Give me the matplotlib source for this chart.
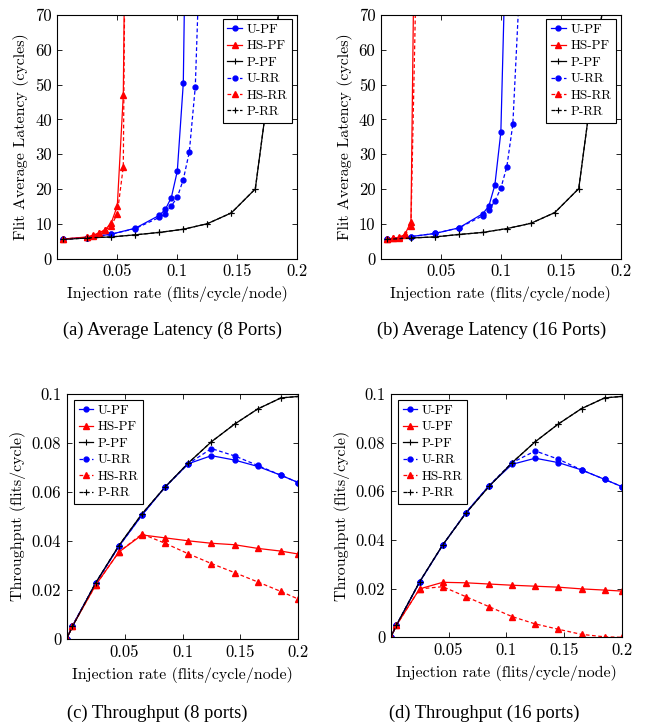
import matplotlib
matplotlib.use("Agg")
import matplotlib.pyplot as plt

plt.rcParams['font.family'] = ['cmr10', 'DejaVu Serif']
plt.rcParams['mathtext.fontset'] = 'cm'
plt.rcParams['axes.formatter.use_mathtext'] = True

# ---------------- data ----------------
# (a) latency, 8 ports
a_u_pf_x = [0.005, 0.025, 0.045, 0.065, 0.085, 0.09, 0.095, 0.1, 0.105, 0.11]
a_u_pf_y = [5.6, 6.0, 7.0, 8.7, 12.4, 14.1, 17.5, 25.1, 50.4, 173]
a_hs_pf_x = [0.005, 0.025, 0.03, 0.035, 0.04, 0.045, 0.05, 0.055, 0.06]
a_hs_pf_y = [5.6, 6.2, 6.7, 7.4, 8.3, 10.3, 15.1, 47.0, 215]
a_p_pf_x = [0.005, 0.025, 0.045, 0.065, 0.085, 0.105, 0.125, 0.145, 0.165, 0.185, 0.2]
a_p_pf_y = [5.5, 5.9, 6.2, 6.8, 7.5, 8.4, 10.0, 13.1, 20.0, 72.0, 150]
a_u_rr_x = [0.005, 0.025, 0.045, 0.065, 0.085, 0.09, 0.095, 0.1, 0.105, 0.11, 0.115, 0.12]
a_u_rr_y = [5.6, 6.0, 7.0, 8.6, 11.8, 12.9, 15.1, 17.6, 22.7, 30.6, 49.4, 101]
a_hs_rr_x = [0.005, 0.025, 0.03, 0.035, 0.04, 0.045, 0.05, 0.055, 0.06]
a_hs_rr_y = [5.6, 6.1, 6.6, 7.3, 8.2, 9.4, 12.9, 26.4, 245]
a_p_rr_x = [0.005, 0.025, 0.045, 0.065, 0.085, 0.105, 0.125, 0.145, 0.165, 0.185, 0.2]
a_p_rr_y = [5.5, 5.9, 6.2, 6.8, 7.5, 8.4, 10.0, 13.1, 20.0, 72.0, 150]

# (b) latency, 16 ports
b_u_pf_x = [0.005, 0.025, 0.045, 0.065, 0.085, 0.09, 0.095, 0.1, 0.105]
b_u_pf_y = [5.6, 6.3, 7.2, 8.8, 12.9, 15.1, 21.1, 36.3, 103]
b_hs_pf_x = [0.005, 0.01, 0.015, 0.02, 0.025, 0.03]
b_hs_pf_y = [5.6, 5.8, 6.1, 6.9, 10.6, 160]
b_p_pf_x = [0.005, 0.025, 0.045, 0.065, 0.085, 0.105, 0.125, 0.145, 0.165, 0.185, 0.2]
b_p_pf_y = [5.5, 5.9, 6.2, 6.9, 7.5, 8.6, 10.1, 13.2, 20.1, 72.0, 150]
b_u_rr_x = [0.005, 0.025, 0.045, 0.065, 0.085, 0.09, 0.095, 0.1, 0.105, 0.11, 0.115]
b_u_rr_y = [5.6, 6.3, 7.2, 8.8, 12.3, 13.9, 16.5, 20.2, 26.4, 38.6, 74]
b_hs_rr_x = [0.005, 0.01, 0.015, 0.02, 0.025, 0.03]
b_hs_rr_y = [5.6, 5.8, 6.0, 6.7, 9.4, 93]
b_p_rr_x = [0.005, 0.025, 0.045, 0.065, 0.085, 0.105, 0.125, 0.145, 0.165, 0.185, 0.2]
b_p_rr_y = [5.5, 5.9, 6.2, 6.9, 7.5, 8.6, 10.1, 13.2, 20.1, 72.0, 150]

# (c) throughput, 8 ports
tp_x = [0.0, 0.005, 0.025, 0.045, 0.065, 0.085, 0.105, 0.125, 0.145, 0.165, 0.185, 0.2]
c_u_pf_y = [0.0, 0.0053, 0.0227, 0.0377, 0.0505, 0.0620, 0.0715, 0.0748, 0.0730, 0.0704, 0.0668, 0.0638]
c_hs_pf_y = [0.0, 0.0052, 0.0219, 0.0354, 0.0424, 0.0412, 0.0400, 0.0390, 0.0384, 0.0369, 0.0358, 0.0346]
c_p_pf_y = [0.0, 0.0050, 0.0228, 0.0380, 0.0510, 0.0620, 0.0718, 0.0805, 0.0877, 0.0939, 0.0984, 0.0990]
c_u_rr_y = [0.0, 0.0053, 0.0227, 0.0377, 0.0505, 0.0620, 0.0715, 0.0777, 0.0747, 0.0708, 0.0668, 0.0638]
c_hs_rr_y = [0.0, 0.0052, 0.0219, 0.0354, 0.0428, 0.0390, 0.0347, 0.0307, 0.0270, 0.0232, 0.0193, 0.0162]
c_p_rr_y = [0.0, 0.0050, 0.0228, 0.0380, 0.0510, 0.0620, 0.0718, 0.0805, 0.0877, 0.0939, 0.0984, 0.0990]

# (d) throughput, 16 ports
d_u_pf_y = [0.0, 0.0050, 0.0227, 0.0379, 0.0512, 0.0623, 0.0711, 0.0736, 0.0718, 0.0688, 0.0649, 0.0619]
d_hs_pf_y = [0.0, 0.0050, 0.0199, 0.0226, 0.0224, 0.0219, 0.0214, 0.0210, 0.0206, 0.0199, 0.0194, 0.0190]
d_p_pf_y = [0.0, 0.0050, 0.0228, 0.0380, 0.0510, 0.0620, 0.0718, 0.0804, 0.0877, 0.0940, 0.0984, 0.0990]
d_u_rr_y = [0.0, 0.0050, 0.0227, 0.0379, 0.0512, 0.0623, 0.0718, 0.0766, 0.0732, 0.0688, 0.0649, 0.0619]
d_hs_rr_y = [0.0, 0.0050, 0.0199, 0.0208, 0.0167, 0.0126, 0.0085, 0.0055, 0.0033, 0.0012, 0.0002, 0.0]
d_p_rr_y = [0.0, 0.0050, 0.0228, 0.0380, 0.0510, 0.0620, 0.0718, 0.0804, 0.0877, 0.0940, 0.0984, 0.0990]

legend_labels = ["U-PF", "HS-PF", "P-PF", "U-RR", "HS-RR", "P-RR"]
legend_labels_d = ["U-PF", "U-PF", "P-PF", "U-RR", "HS-RR", "P-RR"]

x_ticks = [0.05, 0.1, 0.15, 0.2]
x_tick_labels = ["0.05", "0.1", "0.15", "0.2"]
lat_ticks = [0, 10, 20, 30, 40, 50, 60, 70]
lat_tick_labels = ["0", "10", "20", "30", "40", "50", "60", "70"]
tp_ticks = [0, 0.02, 0.04, 0.06, 0.08, 0.1]
tp_tick_labels = ["0", "0.02", "0.04", "0.06", "0.08", "0.1"]

x_label = "Injection rate (flits/cycle/node)"
lat_label = "Flit Average Latency (cycles)"
tp_label = "Throughput (flits/cycle)"
captions = ["(a) Average Latency (8 Ports)", "(b) Average Latency (16 Ports)",
            "(c) Throughput (8 ports)", "(d) Throughput (16 ports)"]

# ---------------- figure ----------------
W, H = 647, 728
fig = plt.figure(figsize=(W / 100, H / 100), dpi=100)

def ax_at(left, top, right, bottom):
    return fig.add_axes([left / W, 1 - bottom / H, (right - left) / W, (bottom - top) / H])

styles = [
    dict(color='blue', marker='o', linestyle='-', markersize=3.5),
    dict(color='red', marker='^', linestyle='-', markersize=4),
    dict(color='black', marker='+', linestyle='-', markersize=5, markeredgewidth=0.8),
    dict(color='blue', marker='o', linestyle=(0, (3, 2)), markersize=3.5),
    dict(color='red', marker='^', linestyle=(0, (3, 2)), markersize=4),
    dict(color='black', marker='+', linestyle=(0, (3, 2)), markersize=5, markeredgewidth=0.8),
]

LAB = 11.5
TICK = 12

def setup(ax, yticks, yticklabels, ylim, ylabel):
    ax.set_xlim(0, 0.2)
    ax.set_ylim(*ylim)
    ax.set_xticks(x_ticks)
    ax.set_xticklabels(x_tick_labels)
    ax.set_yticks(yticks)
    ax.set_yticklabels(yticklabels)
    ax.tick_params(direction='in', top=True, right=True, length=3.5, width=0.6,
                   labelsize=TICK, pad=4)
    for s in ax.spines.values():
        s.set_linewidth(0.8)
    ax.set_xlabel(x_label, fontsize=LAB, labelpad=5)
    ax.set_ylabel(ylabel, fontsize=LAB, labelpad=4)

def draw(ax, series, labels, loc, anchor):
    for (xs, ys), st, lb in zip(series, styles, labels):
        ax.plot(xs, ys, linewidth=0.9, label=lb, **st)
    leg = ax.legend(loc=loc, bbox_to_anchor=anchor, fontsize=9.5, frameon=True,
                    fancybox=False, edgecolor='black', framealpha=1,
                    borderaxespad=0, handlelength=1.1, handletextpad=0.35,
                    labelspacing=0.32, borderpad=0.35)
    leg.get_frame().set_linewidth(0.8)

axa = ax_at(57.3, 15, 297.3, 258.5)
draw(axa, [(a_u_pf_x, a_u_pf_y), (a_hs_pf_x, a_hs_pf_y), (a_p_pf_x, a_p_pf_y),
           (a_u_rr_x, a_u_rr_y), (a_hs_rr_x, a_hs_rr_y), (a_p_rr_x, a_p_rr_y)],
     legend_labels, 'upper right', (0.978, 0.984))
setup(axa, lat_ticks, lat_tick_labels, (0, 70), lat_label)

axb = ax_at(381, 15, 620.7, 258.5)
draw(axb, [(b_u_pf_x, b_u_pf_y), (b_hs_pf_x, b_hs_pf_y), (b_p_pf_x, b_p_pf_y),
           (b_u_rr_x, b_u_rr_y), (b_hs_rr_x, b_hs_rr_y), (b_p_rr_x, b_p_rr_y)],
     legend_labels, 'upper right', (0.979, 0.984))
setup(axb, lat_ticks, lat_tick_labels, (0, 70), lat_label)

axc = ax_at(66.7, 394, 298.3, 638.7)
draw(axc, [(tp_x, c_u_pf_y), (tp_x, c_hs_pf_y), (tp_x, c_p_pf_y),
           (tp_x, c_u_rr_y), (tp_x, c_hs_rr_y), (tp_x, c_p_rr_y)],
     legend_labels, 'upper left', (0.0315, 0.975))
setup(axc, tp_ticks, tp_tick_labels, (0, 0.1), tp_label)

axd = ax_at(390.7, 394, 622, 637.3)
draw(axd, [(tp_x, d_u_pf_y), (tp_x, d_hs_pf_y), (tp_x, d_p_pf_y),
           (tp_x, d_u_rr_y), (tp_x, d_hs_rr_y), (tp_x, d_p_rr_y)],
     legend_labels_d, 'upper left', (0.0316, 0.975))
setup(axd, tp_ticks, tp_tick_labels, (0, 0.1), tp_label)

cap_font = dict(family='Liberation Serif', fontsize=13.3, ha='center', va='center')
fig.text(172 / W, 1 - 330 / H, captions[0], **cap_font)
fig.text(492 / W, 1 - 330 / H, captions[1], **cap_font)
fig.text(157 / W, 1 - 713 / H, captions[2], **cap_font)
fig.text(484 / W, 1 - 713 / H, captions[3], **cap_font)

fig.savefig("out.png", dpi=100)
